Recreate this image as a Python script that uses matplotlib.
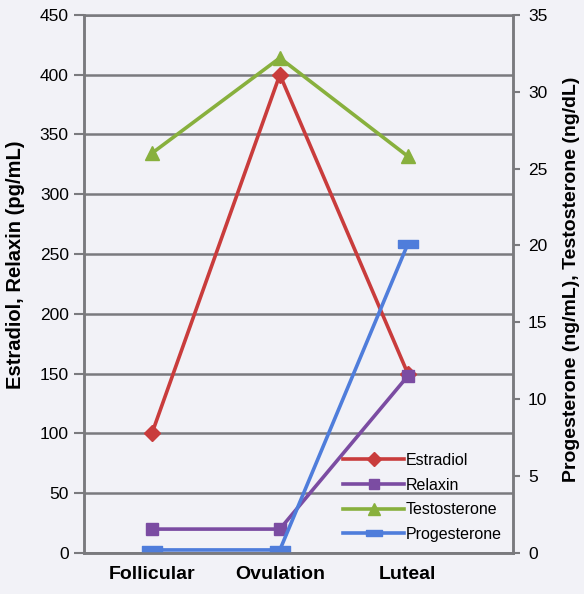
import matplotlib.pyplot as plt

phases = ["Follicular", "Ovulation", "Luteal"]
estradiol = [100, 400, 150]
relaxin = [20, 20, 148]
testosterone = [26, 32.2, 25.8]
progesterone = [0.2, 0.2, 20.1]

plt.rcParams['font.family'] = ['Liberation Sans', 'DejaVu Sans']

fig = plt.figure(figsize=(5.84, 5.94), dpi=100, facecolor='#f2f2f7')
ax = fig.add_axes([0.144, 0.069, 0.734, 0.906])
ax.set_facecolor('#f2f2f7')
ax2 = ax.twinx()

x = list(range(len(phases)))
gray = '#7a7a7e'
# wide flat box for the progesterone marker
bar_marker = [(-1, -0.4), (1, -0.4), (1, 0.4), (-1, 0.4), (-1, -0.4)]

l1, = ax.plot(x, estradiol, color='#c93c3c', lw=2.6, marker='D', ms=8, label='Estradiol')
l2, = ax.plot(x, relaxin, color='#7b4ca2', lw=2.6, marker='s', ms=8.5, label='Relaxin')
l3, = ax2.plot(x, testosterone, color='#88b03d', lw=2.6, marker='^', ms=10, label='Testosterone')
l4, = ax2.plot(x, progesterone, color='#4f7ddb', lw=2.6, marker=bar_marker, ms=14, label='Progesterone')

ax.set_ylim(0, 450)
ax.set_yticks(range(0, 451, 50))
ax2.set_ylim(0, 35)
ax2.set_yticks(range(0, 36, 5))
ax.set_xlim(-0.53, 2.82)
ax.set_xticks(x)
ax.set_xticklabels(phases, fontsize=14, fontweight='bold')

ax.grid(axis='y', color=gray, lw=1.8)
ax.set_axisbelow(True)
for a in (ax, ax2):
    for s in a.spines.values():
        s.set_color(gray)
        s.set_linewidth(1.8)
ax2.spines['top'].set_visible(False)

ax.tick_params(axis='y', length=7, width=1.5, color=gray, labelsize=12.5, pad=4)
ax.tick_params(axis='x', length=0, pad=9)
ax2.tick_params(axis='y', length=5, width=1.5, color=gray, labelsize=12.5, pad=6)

ax.set_ylabel('Estradiol, Relaxin (pg/mL)', fontsize=14.5, fontweight='bold')
ax.yaxis.set_label_coords(-0.137, 0.535)
ax2.set_ylabel('Progesterone (ng/mL), Testosterone (ng/dL)', fontsize=14, fontweight='bold')
ax2.yaxis.set_label_coords(1.118, 0.509)

leg = ax.legend(handles=[l1, l2, l3, l4], loc='lower right', frameon=False,
                fontsize=11.5, handlelength=3.8, handletextpad=0.1, labelspacing=0.6,
                bbox_to_anchor=(1.0, 0.0), borderaxespad=0.3)
for h in leg.legend_handles:
    h.set_markersize(h.get_markersize() * 0.85)

fig.savefig('out.png', dpi=100, facecolor=fig.get_facecolor())
